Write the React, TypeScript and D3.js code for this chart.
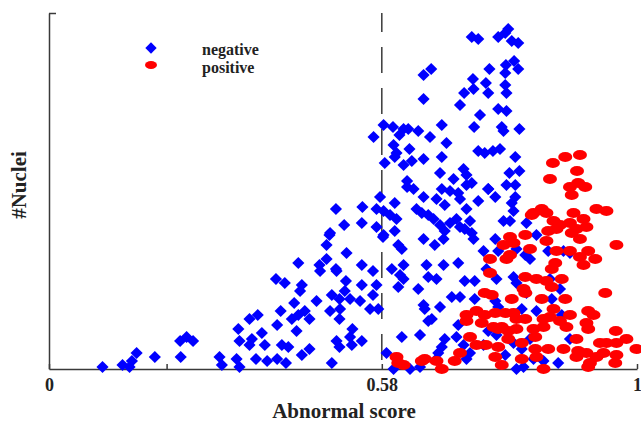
import React, { useEffect, useRef } from 'react'
import * as d3 from 'd3'

// [abnormal score, #nuclei]
const negativePoints: [number, number][] = [
  [0.091, 1], [0.125, 2], [0.137, 1], [0.141, 4], [0.149, 8], [0.18, 6], [0.224, 6], [0.223, 14], [0.234, 16], [0.245, 14],
  [0.29, 6], [0.294, 2], [0.319, 5], [0.324, 1], [0.322, 20], [0.324, 14], [0.341, 12], [0.345, 15], [0.341, 25], [0.355, 27],
  [0.362, 18], [0.367, 12], [0.352, 5], [0.371, 4], [0.388, 5], [0.403, 3], [0.396, 12], [0.407, 11], [0.388, 22], [0.394, 29],
  [0.386, 45], [0.401, 43], [0.424, 53], [0.417, 33], [0.413, 25], [0.421, 19], [0.43, 42], [0.427, 39], [0.424, 27], [0.435, 29],
  [0.443, 25], [0.43, 7], [0.443, 10], [0.455, 34], [0.46, 52], [0.461, 49], [0.472, 55], [0.472, 62], [0.477, 67], [0.481, 37],
  [0.478, 29], [0.481, 3], [0.489, 49], [0.494, 35], [0.495, 30], [0.494, 25], [0.489, 14], [0.494, 11], [0.506, 58], [0.505, 44],
  [0.503, 39], [0.512, 35], [0.516, 20], [0.512, 16], [0.515, 12], [0.532, 52], [0.532, 42], [0.529, 34], [0.532, 14], [0.551, 49],
  [0.551, 37], [0.546, 30], [0.557, 42], [0.56, 30],
  [0.569, 122], [0.552, 116], [0.571, 103], [0.563, 86], [0.488, 80], [0.533, 81], [0.557, 80], [0.569, 79], [0.502, 72], [0.532, 73],
  [0.557, 71], [0.478, 68], [0.568, 66], [0.488, 50],
  [0.719, 166], [0.73, 165], [0.764, 166], [0.776, 168], [0.781, 170], [0.787, 164], [0.798, 163], [0.637, 147], [0.65, 150], [0.749, 150],
  [0.777, 152], [0.791, 154], [0.798, 150], [0.776, 148], [0.721, 145], [0.743, 143], [0.722, 140], [0.747, 138], [0.706, 138], [0.776, 142],
  [0.778, 138], [0.637, 135], [0.699, 132], [0.764, 130], [0.778, 129], [0.733, 127], [0.723, 121], [0.77, 121], [0.773, 119], [0.8, 120],
  [0.585, 121], [0.603, 120], [0.596, 117], [0.611, 120], [0.628, 119], [0.648, 116], [0.668, 122], [0.676, 113], [0.586, 112], [0.591, 108],
  [0.588, 106], [0.613, 110], [0.603, 102], [0.617, 104], [0.637, 105], [0.668, 106], [0.73, 109], [0.741, 108], [0.755, 109], [0.767, 110],
  [0.793, 106], [0.665, 98], [0.705, 100], [0.71, 97], [0.688, 95], [0.719, 93], [0.747, 90], [0.783, 98], [0.8, 99], [0.778, 92],
  [0.793, 92], [0.609, 94], [0.609, 91], [0.668, 90],
  [0.62, 90], [0.637, 86], [0.659, 85], [0.673, 82], [0.682, 89], [0.696, 88], [0.699, 85], [0.71, 92], [0.73, 84], [0.747, 90],
  [0.759, 86], [0.793, 86], [0.787, 83], [0.79, 79], [0.588, 83], [0.58, 77], [0.591, 75], [0.625, 80], [0.634, 78], [0.645, 77],
  [0.654, 75], [0.665, 72], [0.682, 73], [0.693, 75], [0.71, 80], [0.716, 74], [0.699, 71], [0.707, 70], [0.673, 69], [0.671, 65],
  [0.656, 62], [0.637, 65], [0.569, 67], [0.588, 69], [0.594, 62], [0.6, 60], [0.719, 68], [0.722, 65], [0.773, 74], [0.784, 74],
  [0.812, 73], [0.829, 67], [0.759, 65], [0.739, 59], [0.764, 59], [0.795, 60], [0.81, 57], [0.818, 55], [0.849, 59], [0.875, 59],
  [0.886, 58], [0.583, 50], [0.603, 52], [0.597, 47], [0.603, 45], [0.594, 41], [0.628, 40], [0.642, 52], [0.645, 46], [0.659, 45],
  [0.671, 52], [0.696, 53], [0.707, 44], [0.724, 44], [0.744, 50], [0.761, 45], [0.79, 46], [0.795, 43], [0.812, 38], [0.852, 45],
  [0.869, 40], [0.685, 36], [0.699, 36], [0.724, 35], [0.637, 32], [0.639, 30], [0.665, 31], [0.645, 24], [0.651, 25], [0.759, 34],
  [0.764, 31], [0.804, 30], [0.829, 29], [0.855, 35], [0.872, 27], [0.696, 22], [0.6, 16], [0.631, 17], [0.673, 15], [0.668, 11],
  [0.662, 8], [0.659, 5], [0.693, 16], [0.705, 12], [0.716, 8], [0.71, 5], [0.739, 12], [0.747, 19], [0.761, 17], [0.776, 7],
  [0.79, 13], [0.804, 10], [0.818, 15], [0.824, 5], [0.795, 0], [0.807, 1], [0.841, 4], [0.866, 3], [0.886, 15], [0.917, 2],
  [0.574, 8], [0.586, 0], [0.614, 0], [0.631, 1],
]

const positivePoints: [number, number][] = [
  [0.878, 106], [0.903, 107], [0.857, 103], [0.898, 99], [0.852, 95], [0.886, 91], [0.9, 93], [0.912, 91], [0.889, 87],
  [0.838, 80], [0.824, 78], [0.846, 78], [0.821, 77], [0.858, 74], [0.869, 72], [0.892, 78], [0.909, 75], [0.931, 80], [0.948, 79],
  [0.886, 73], [0.897, 70], [0.914, 71], [0.889, 68], [0.903, 65], [0.863, 70], [0.849, 69], [0.846, 64], [0.965, 62], [0.784, 66],
  [0.79, 63], [0.773, 62], [0.81, 67], [0.818, 60], [0.784, 57], [0.778, 55], [0.75, 55], [0.863, 59], [0.886, 59], [0.903, 56],
  [0.917, 59], [0.929, 55], [0.909, 52], [0.861, 53], [0.855, 50], [0.75, 48], [0.81, 46], [0.829, 45], [0.846, 44], [0.872, 45],
  [0.855, 41], [0.807, 40], [0.81, 38], [0.741, 38], [0.753, 37], [0.787, 35], [0.838, 35], [0.878, 35], [0.946, 38], [0.858, 30],
  [0.71, 27], [0.727, 29], [0.741, 27], [0.759, 28], [0.776, 28], [0.79, 28], [0.71, 24], [0.736, 23], [0.756, 21], [0.77, 21],
  [0.795, 25], [0.81, 25], [0.841, 25], [0.852, 26], [0.869, 24], [0.886, 27], [0.917, 29], [0.926, 27], [0.88, 21], [0.914, 23],
  [0.917, 20], [0.764, 20], [0.781, 19], [0.795, 20], [0.824, 20], [0.841, 21], [0.827, 16], [0.781, 15], [0.764, 11], [0.804, 13],
  [0.716, 16], [0.727, 12], [0.699, 8], [0.69, 4], [0.759, 6], [0.77, 2], [0.804, 5], [0.841, 0], [0.829, 6], [0.849, 10],
  [0.827, 10], [0.875, 10], [0.897, 15], [0.9, 9], [0.897, 6], [0.914, 8], [0.937, 13], [0.948, 13], [0.965, 13], [0.964, 19],
  [0.982, 15], [0.999, 10], [0.943, 8], [0.965, 7], [0.963, 3], [0.931, 6], [0.92, 3], [0.917, 1], [0.591, 6], [0.594, 3],
  [0.603, 2], [0.634, 4], [0.639, 5], [0.659, 4], [0.668, 0], [0.743, 12],
]

const thresholdScore = 0.566
const xTickValues = [0, 0.2, thresholdScore, 1]
const xTickLabels = ['0', '', '0.58', '1']
const yMax = 178
const legendLabels = ['negative', 'positive']

const width = 641
const height = 423
const font = '"Liberation Serif", "Times New Roman", serif'
const axisColor = '#3a3a3a'

const App = () => {
  const ref = useRef<SVGSVGElement>(null)

  useEffect(() => {
    if (ref.current) drawChart(ref.current)
  }, [])

  return (
    <svg
      ref={ref}
      width={width}
      height={height}
      style={{ position: 'absolute', left: 0, top: 0, background: 'white' }}
    />
  )
}

const drawChart = (el: SVGSVGElement) => {
  const svg = d3.select(el)
  svg.selectAll('*').remove()

  const x = d3.scaleLinear().domain([0, 1]).range([49, 637])
  const y = d3.scaleLinear().domain([0, yMax]).range([369, 13])

  // x axis
  const xAxis = d3
    .axisBottom(x)
    .tickValues(xTickValues)
    .tickFormat((d, i) => xTickLabels[i])
    .tickSizeInner(-5)
    .tickSizeOuter(0)
    .tickPadding(9)

  const gx = svg.append('g').attr('transform', `translate(0, ${y(0)})`).call(xAxis)
  gx.select('.domain').attr('stroke', axisColor).attr('stroke-width', 1.5)
  gx.selectAll('line').attr('stroke', axisColor).attr('stroke-width', 1.5)
  gx.selectAll('text')
    .attr('fill', '#222')
    .attr('font-family', font)
    .attr('font-weight', 'bold')
    .attr('font-size', 18)

  // y axis
  const yAxis = d3
    .axisLeft(y)
    .tickValues([yMax])
    .tickFormat(() => '')
    .tickSizeInner(-7)
    .tickSizeOuter(0)

  const gy = svg.append('g').attr('transform', `translate(${x(0)}, 0)`).call(yAxis)
  gy.select('.domain').attr('stroke', axisColor).attr('stroke-width', 1.5)
  gy.selectAll('line').attr('stroke', axisColor).attr('stroke-width', 1.5)

  // threshold line
  svg
    .append('line')
    .attr('x1', x(thresholdScore))
    .attr('x2', x(thresholdScore))
    .attr('y1', y(yMax))
    .attr('y2', y(0))
    .attr('stroke', axisColor)
    .attr('stroke-width', 1.5)
    .attr('stroke-dasharray', '26 15')
    .attr('stroke-dashoffset', 7)

  // negative: blue diamonds
  const diamond = d3.symbol().type(d3.symbolSquare).size(74)
  svg
    .append('g')
    .selectAll('path')
    .data(negativePoints)
    .enter()
    .append('path')
    .attr('d', diamond)
    .attr('transform', (d) => `translate(${x(d[0])}, ${y(d[1])}) rotate(45)`)
    .attr('fill', '#0000ff')

  // positive: red ellipses
  svg
    .append('g')
    .selectAll('ellipse')
    .data(positivePoints)
    .enter()
    .append('ellipse')
    .attr('cx', (d) => x(d[0]))
    .attr('cy', (d) => y(d[1]))
    .attr('rx', 7)
    .attr('ry', 5)
    .attr('fill', '#ff0000')

  // legend
  const legend = svg.append('g').attr('transform', 'translate(151, 48)')
  legend
    .append('path')
    .attr('d', d3.symbol().type(d3.symbolSquare).size(64)())
    .attr('transform', 'rotate(45)')
    .attr('fill', '#0000ff')
  legend.append('ellipse').attr('cx', 0).attr('cy', 17).attr('rx', 6).attr('ry', 4).attr('fill', '#ff0000')
  legend
    .selectAll('text')
    .data(legendLabels)
    .enter()
    .append('text')
    .text((d) => d)
    .attr('x', 51)
    .attr('y', (d, i) => 7 + i * 18)
    .attr('font-family', font)
    .attr('font-weight', 'bold')
    .attr('font-size', 16)
    .attr('fill', '#222')

  // axis titles
  svg
    .append('text')
    .text('Abnormal score')
    .attr('x', 344)
    .attr('y', 418)
    .attr('text-anchor', 'middle')
    .attr('font-family', font)
    .attr('font-weight', 'bold')
    .attr('font-size', 21)
    .attr('fill', '#222')

  svg
    .append('text')
    .text('#Nuclei')
    .attr('transform', 'translate(26, 185) rotate(-90)')
    .attr('text-anchor', 'middle')
    .attr('font-family', font)
    .attr('font-weight', 'bold')
    .attr('font-size', 21)
    .attr('fill', '#222')
}

export default App
